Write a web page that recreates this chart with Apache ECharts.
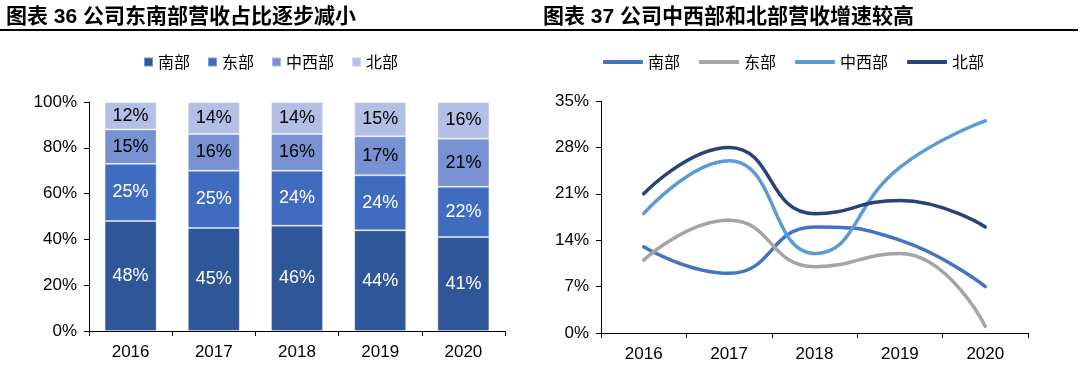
<!DOCTYPE html>
<html>
<head>
<meta charset="utf-8">
<script src="https://cdn.jsdelivr.net/npm/echarts@6/dist/echarts.min.js"></script>
<style>
html,body{margin:0;padding:0;background:#fff;}
#c{width:1080px;height:370px;}
</style>
</head>
<body>
<div id="c"></div>
<script>
// ---- data ----
const years = ['2016', '2017', '2018', '2019', '2020'];
const regionNames = ['南部', '东部', '中西部', '北部'];
// revenue share (%), chart 36
const southShare = [48, 45, 46, 44, 41];
const eastShare = [25, 25, 24, 24, 22];
const midwestShare = [15, 16, 16, 17, 21];
const northShare = [12, 14, 14, 15, 16];
// revenue growth (%), chart 37
const southGrowth = [13, 9, 16, 14, 7];
const eastGrowth = [11, 17, 10, 12, 1];
const midwestGrowth = [18, 26, 12, 25, 32];
const northGrowth = [21, 28, 18, 20, 16];
// axis ticks
const shareAxis = { min: 0, max: 100, interval: 20 };
const growthAxis = { min: 0, max: 35, interval: 7 };
const titles = ['图表 36 公司东南部营收占比逐步减小', '图表 37 公司中西部和北部营收增速较高'];

// ---- styles ----
const FONT = "'Liberation Sans', Arial, 'Noto Sans CJK SC', sans-serif";
const CJK = "'Noto Sans CJK SC', sans-serif";
const barColors = ['#30569A', '#3F6CBF', '#7891D2', '#B3BFE4'];
const barLabelColors = ['#fff', '#fff', '#000', '#000'];
const lineColors = ['#4472C4', '#A5A5A5', '#5B9BD5', '#264478'];
const shareData = [southShare, eastShare, midwestShare, northShare];
const growthData = [southGrowth, eastGrowth, midwestGrowth, northGrowth];
const SUFFIX = '\u0020\u0020';

const chart = echarts.init(document.getElementById('c'), null, { renderer: 'canvas' });

const axisLine = { show: true, lineStyle: { color: '#000', width: 1 } };
const axisTick = { show: true, length: 5, lineStyle: { color: '#000', width: 1 } };

const barSeries = regionNames.map((n, i) => ({
  name: n,
  type: 'bar',
  stack: 'share',
  xAxisIndex: 0, yAxisIndex: 0,
  barWidth: 52,
  data: shareData[i],
  itemStyle: { color: barColors[i], borderColor: 'rgba(255,255,255,0.35)', borderWidth: 1 },
  label: {
    show: true, position: 'inside', formatter: '{c}%',
    color: barLabelColors[i], fontSize: 18, fontFamily: FONT
  },
  emphasis: { disabled: true }
}));

const lineSeries = regionNames.map((n, i) => ({
  name: n + SUFFIX,
  type: 'line',
  xAxisIndex: 1, yAxisIndex: 1,
  smooth: 0.5,
  symbol: 'none',
  data: growthData[i],
  lineStyle: { color: lineColors[i], width: 3.5, cap: 'round' },
  itemStyle: { color: lineColors[i] },
  z: i === 3 ? 5 : 3,
  emphasis: { disabled: true }
}));

const option = {
  animation: false,
  backgroundColor: '#fff',
  title: titles.map((t, i) => ({
    text: t,
    left: i === 0 ? 1 : 538,
    top: 2,
    textStyle: { fontFamily: FONT, fontWeight: 'bold', fontSize: 21, color: '#000' }
  })),
  graphic: [{
    type: 'line',
    shape: { x1: 0, y1: 30, x2: 1078, y2: 30 },
    style: { stroke: '#000', lineWidth: 2 }
  }],
  legend: [{
    data: regionNames,
    left: 138, top: 49,
    icon: 'rect', itemWidth: 9, itemHeight: 9, itemGap: 17,
    textStyle: { fontFamily: CJK, fontSize: 16, color: '#000' },
    selectedMode: false
  }, {
    data: regionNames.map(n => n + SUFFIX),
    left: 598, top: 49,
    icon: 'roundRect', itemWidth: 40, itemHeight: 4, itemGap: 19,
    formatter: n => n.trim(),
    textStyle: { fontFamily: CJK, fontSize: 16, color: '#000' },
    selectedMode: false
  }],
  grid: [
    { left: 89, top: 102, width: 416, height: 229, containLabel: false },
    { left: 601, top: 101, width: 427, height: 232, containLabel: false }
  ],
  xAxis: [{
    type: 'category', gridIndex: 0, data: years,
    boundaryGap: true,
    axisLine, axisTick,
    axisLabel: { color: '#000', fontSize: 17, fontFamily: FONT, margin: 13 },
    splitLine: { show: false }
  }, {
    type: 'category', gridIndex: 1, data: years,
    boundaryGap: true,
    axisLine, axisTick,
    axisLabel: { color: '#000', fontSize: 17, fontFamily: FONT, margin: 13 },
    splitLine: { show: false }
  }],
  yAxis: [{
    type: 'value', gridIndex: 0,
    min: shareAxis.min, max: shareAxis.max, interval: shareAxis.interval,
    axisLine, axisTick,
    axisLabel: { color: '#000', fontSize: 17, fontFamily: FONT, margin: 12, formatter: '{value}%' },
    splitLine: { show: false }
  }, {
    type: 'value', gridIndex: 1,
    min: growthAxis.min, max: growthAxis.max, interval: growthAxis.interval,
    axisLine, axisTick,
    axisLabel: { color: '#000', fontSize: 17, fontFamily: FONT, margin: 12, formatter: '{value}%' },
    splitLine: { show: false }
  }],
  series: barSeries.concat(lineSeries)
};
chart.setOption(option);
</script>
</body>
</html>
